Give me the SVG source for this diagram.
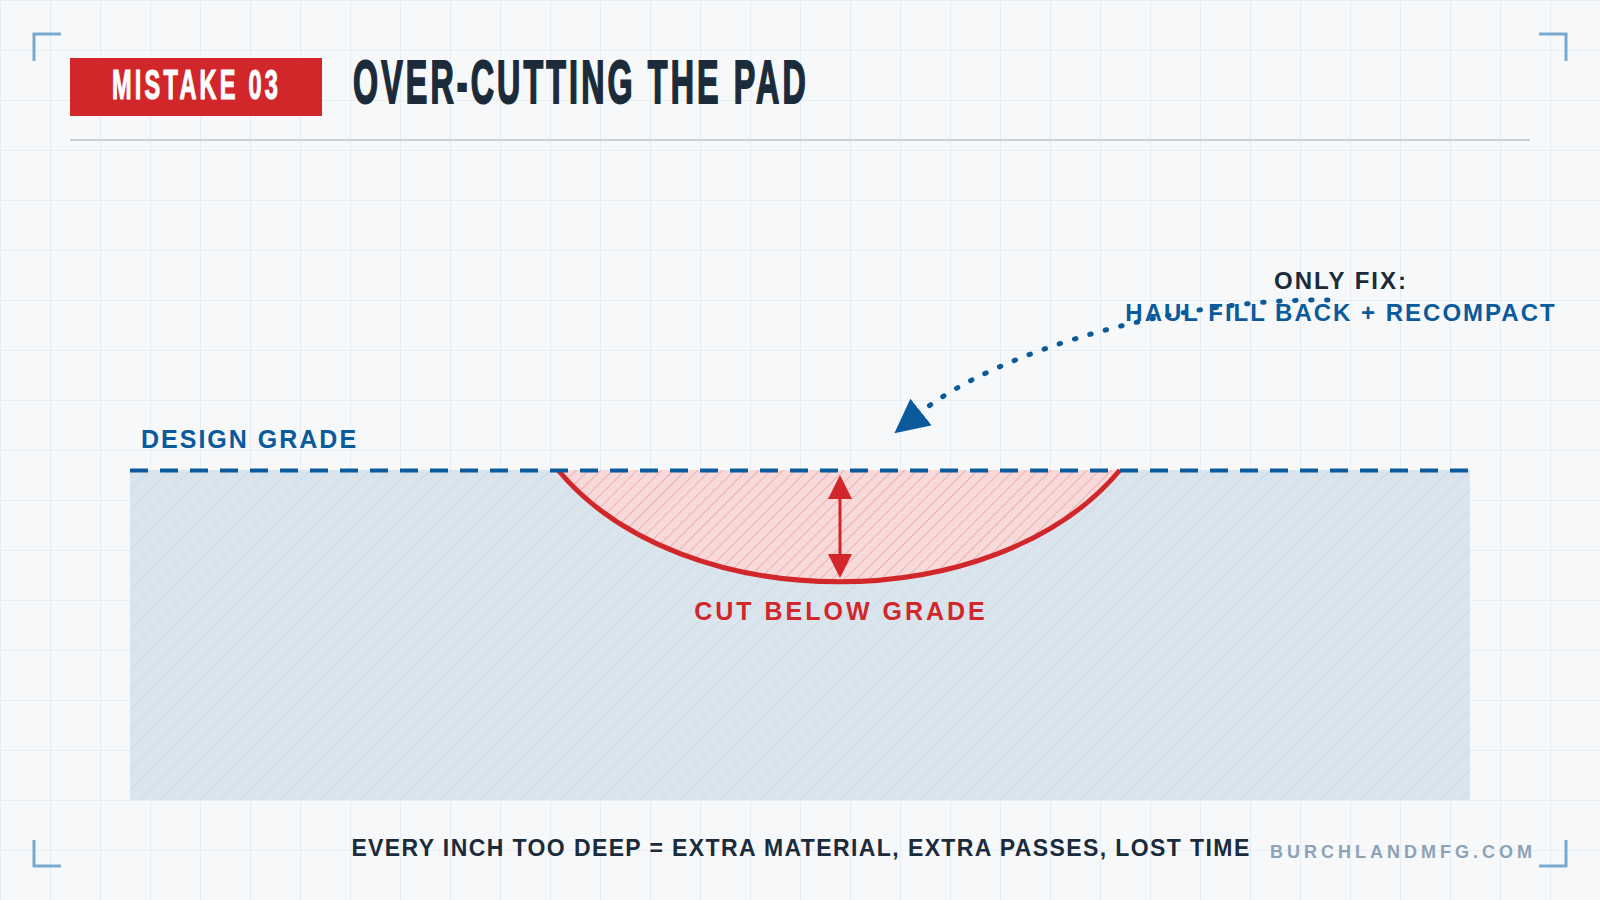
<svg xmlns="http://www.w3.org/2000/svg" width="1600" height="900" viewBox="0 0 1600 900">
  <style>
    .sans { font-family: "Liberation Sans", Arial, sans-serif; font-weight: bold; }
    .bracket { fill: none; stroke: #7aa9d0; stroke-width: 3; }
    .cond { font-family: "Liberation Sans", Arial, sans-serif; font-weight: bold; }
  </style>
  <defs>
    <pattern id="grid" width="50" height="50" patternUnits="userSpaceOnUse">
      <path d="M0,0.5 H50 M0.5,0 V50" fill="none" stroke="#e6edf4" stroke-width="1"/>
    </pattern>
    <pattern id="hatchBlue" width="14.14" height="14.14" patternUnits="userSpaceOnUse" patternTransform="rotate(45)">
      <rect width="14.14" height="14.14" fill="#dae4ed"/>
      <line x1="0" y1="0" x2="0" y2="14.14" stroke="#c5d3e0" stroke-width="1.2"/>
    </pattern>
    <pattern id="hatchRed" width="8.6" height="8.6" patternUnits="userSpaceOnUse" patternTransform="rotate(45)">
      <rect width="8.6" height="8.6" fill="#f7d9da"/>
      <line x1="0" y1="0" x2="0" y2="8.6" stroke="#e89597" stroke-width="1.2"/>
    </pattern>
    <marker id="blueHead" markerUnits="userSpaceOnUse" markerWidth="34" markerHeight="34" viewBox="0 0 34 34" refX="0" refY="17" orient="auto">
      <path d="M0,0 L34,17 L0,34 Z" fill="#0a5a9c"/>
    </marker>
    <marker id="redHead" markerUnits="userSpaceOnUse" markerWidth="24" markerHeight="24" viewBox="0 0 24 24" refX="0" refY="12" orient="auto-start-reverse">
      <path d="M0,0 L24,12 L0,24 Z" fill="#d1272b"/>
    </marker>
  </defs>

  <rect width="1600" height="900" fill="#f6f8fa"/>
  <rect width="1600" height="900" fill="url(#grid)"/>

  <!-- corner brackets -->
  <path class="bracket" d="M34,61 V34 H61"/>
  <path class="bracket" d="M1539,34 H1566 V61"/>
  <path class="bracket" d="M34,840 V866 H61"/>
  <path class="bracket" d="M1539,866 H1566 V840"/>

  <!-- header -->
  <g id="header">
    <rect x="70" y="58" width="252" height="58" fill="#d1272b"/>
    <text class="cond" transform="translate(112,99) scale(0.56,1)" font-size="42" letter-spacing="5.8" fill="#ffffff" stroke="#ffffff" stroke-width="1.2">MISTAKE 03</text>
    <text class="cond" transform="translate(353,103) scale(0.52,1)" font-size="62" letter-spacing="6" fill="#1c2b3a" stroke="#1c2b3a" stroke-width="2">OVER-CUTTING THE PAD</text>
    <line x1="70" y1="140" x2="1530" y2="140" stroke="#c9d0d7" stroke-width="2"/>
  </g>

  <!-- ground -->
  <g id="ground">
    <rect x="130" y="470" width="1340" height="330" fill="url(#hatchBlue)"/>
  </g>

  <!-- over-cut region -->
  <g id="overcut">
    <path d="M558,470 C682,619 996,619 1120,470 Z" fill="url(#hatchRed)" stroke="none"/>
    <path d="M558,470 C682,619 996,619 1120,470" fill="none" stroke="#d1272b" stroke-width="5"/>
  </g>

  <!-- design grade line -->
  <g id="design-grade">
    <line x1="130" y1="470.5" x2="1470" y2="470.5" stroke="#0a5a9c" stroke-width="4" stroke-dasharray="18 12"/>
    <text class="sans" x="141" y="448" font-size="25" letter-spacing="2" fill="#0a5a9c">DESIGN GRADE</text>
  </g>

  <!-- connectors -->
  <g id="connectors">
    <line x1="840" y1="499" x2="840" y2="554" stroke="#d1272b" stroke-width="3" marker-start="url(#redHead)" marker-end="url(#redHead)"/>
    <path d="M1328,300 C1180,298 999,350 921,412" fill="none" stroke="#0a5a9c" stroke-width="5" stroke-linecap="round" stroke-dasharray="1.5 14.5" marker-end="url(#blueHead)"/>
  </g>

  <g id="cut-label">
    <text class="sans" x="841" y="620" font-size="25" letter-spacing="3" fill="#d1272b" text-anchor="middle">CUT BELOW GRADE</text>
  </g>

  <g id="fix-label">
    <text class="sans" x="1341" y="289" font-size="24" letter-spacing="2" fill="#1c2b3a" text-anchor="middle">ONLY FIX:</text>
    <text class="sans" x="1341" y="321" font-size="24" letter-spacing="2" fill="#0a5a9c" text-anchor="middle">HAUL FILL BACK + RECOMPACT</text>
  </g>

  <g id="footer">
    <text class="sans" x="801" y="856" font-size="23" letter-spacing="1.4" fill="#1c2b3a" text-anchor="middle">EVERY INCH TOO DEEP = EXTRA MATERIAL, EXTRA PASSES, LOST TIME</text>
    <text class="sans" x="1536" y="858" font-size="18" letter-spacing="4" fill="#8ea2b7" text-anchor="end">BURCHLANDMFG.COM</text>
  </g>
</svg>
